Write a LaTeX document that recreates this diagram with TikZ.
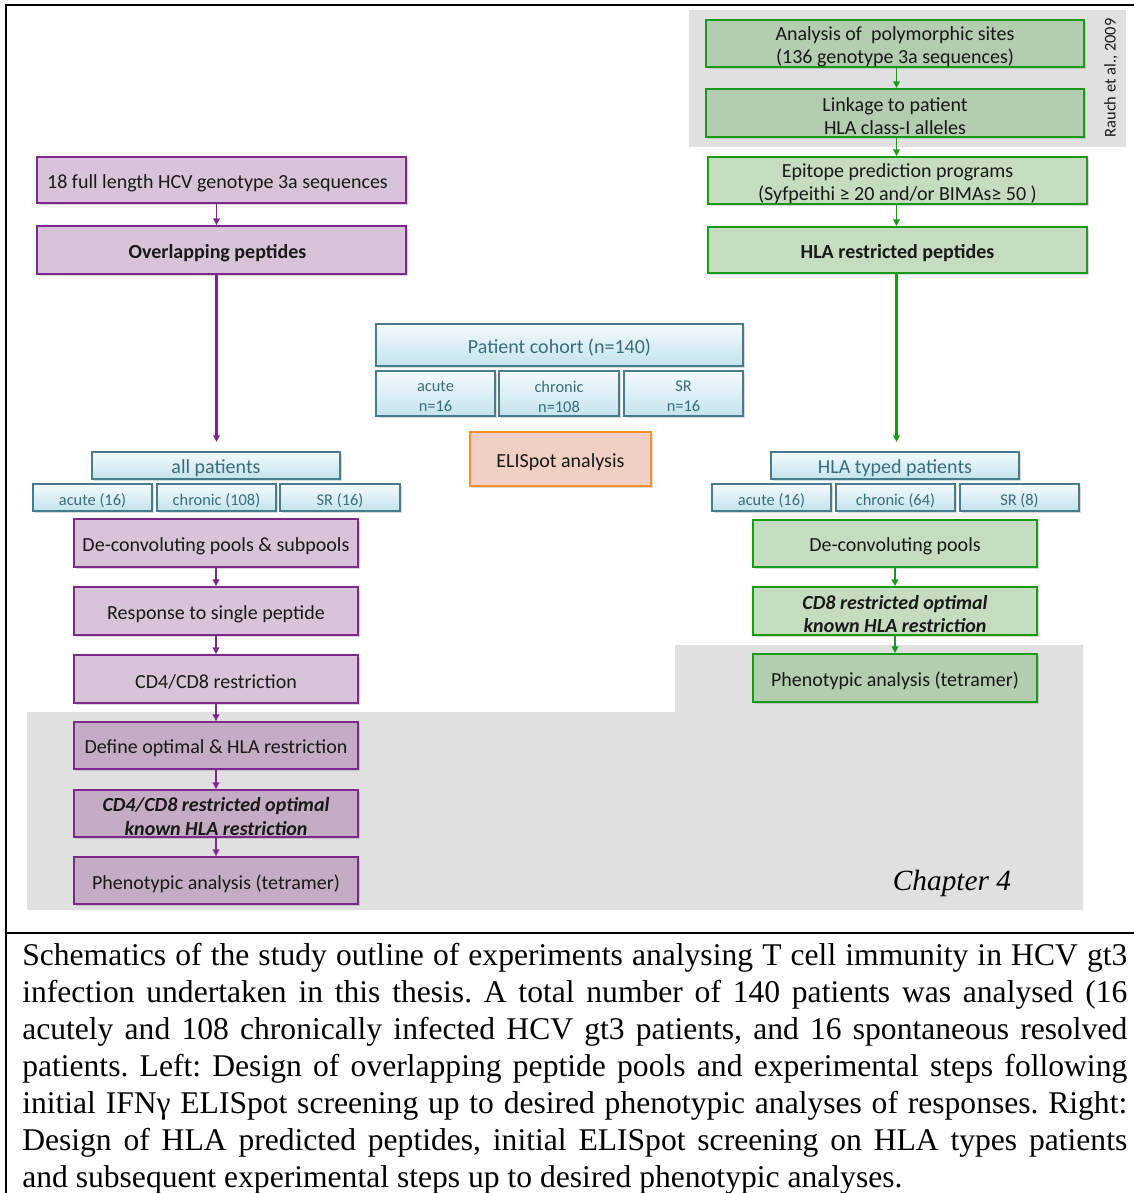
\documentclass[tikz,border=0pt]{standalone}
\usepackage{fontspec}
\setmainfont{Carlito}
\newfontfamily\capfont{Liberation Serif}
\usetikzlibrary{arrows.meta,shadows}
\definecolor{pbord}{RGB}{125,40,140}
\definecolor{pfill}{RGB}{216,196,216}
\definecolor{pfilld}{RGB}{196,173,196}
\definecolor{gbord}{RGB}{25,155,25}
\definecolor{gfill}{RGB}{197,220,192}
\definecolor{gfilld}{RGB}{180,204,176}
\definecolor{bbord}{RGB}{70,125,142}
\definecolor{btop}{RGB}{244,250,252}
\definecolor{bbot}{RGB}{196,227,237}
\definecolor{btext}{RGB}{55,110,126}
\definecolor{obord}{RGB}{247,145,45}
\definecolor{ofill}{RGB}{240,208,196}
\definecolor{garea}{RGB}{224,224,224}
\definecolor{txt}{RGB}{25,25,25}
\frenchspacing
\begin{document}
\begin{tikzpicture}[x=0.75pt,y=-0.75pt,
  sz/.style 2 args={minimum width=#1*0.75pt, minimum height=#2*0.75pt},
  basebox/.style={draw, inner sep=0pt,
    drop shadow={opacity=0.3, shadow xshift=1.2pt, shadow yshift=-1.2pt}},
  plbl/.style={inner sep=0pt, align=center, text=txt, font=\fontsize{15}{17.5}\selectfont, yshift=-2.25pt},
  blbl/.style={plbl, text=btext},
  bslbl/.style={blbl, font=\fontsize{12.3}{15}\selectfont},
  tx/.style={label={[plbl]center:{#1}}},
  btx/.style={label={[blbl]center:{#1}}},
  bstx/.style={label={[bslbl]center:{#1}}},
  pbox/.style={basebox, draw=pbord, fill=pfill, line width=1.4pt},
  pboxd/.style={pbox, fill=pfilld},
  gbox/.style={basebox, draw=gbord, fill=gfill, line width=1.4pt},
  gboxd/.style={gbox, fill=gfilld},
  bbox/.style={basebox, draw=bbord, line width=1.1pt, top color=btop, bottom color=bbot},
  obox/.style={basebox, draw=obord, fill=ofill, line width=1.4pt},
  parr/.style={draw=pbord, line width=1.1pt, -{Triangle[length=5pt,width=5pt]}},
  garr/.style={draw=gbord, line width=1.1pt, -{Triangle[length=5pt,width=5pt]}},
  caption/.style={font=\capfont\fontsize{23.7}{27.6}\selectfont, inner sep=0pt, anchor=base west}
]
\useasboundingbox (0,0) rectangle (1134,1193);
% frame
\draw[line width=1.5pt] (6,1193) -- (6,4.5) -- (1134,4.5);
\draw[line width=1.5pt] (6,933) -- (1134,933);
% gray areas
\fill[garea] (689,10) rectangle (1126,147);
\fill[garea] (27,712) -- (675,712) -- (675,645) -- (1083,645) -- (1083,910) -- (27,910) -- cycle;

% left column
\node[pbox, sz={369}{46}, label={[plbl, xshift=-3pt]center:18 full length HCV genotype 3a sequences}] (seq) at (221.5,180) {};
\node[pbox, sz={369}{48}, label={[plbl, xshift=-3pt]center:\textbf{Overlapping peptides}}] (ovl) at (221.5,250) {};
\coordinate (lx) at (216.5,0);
\draw[parr] (lx |- seq.south) -- (lx |- ovl.north);

\node[bbox, sz={248}{27}, btx={all patients}] (allp) at (216,465.5) {};
\node[bbox, sz={119}{27}, bstx={acute (16)}] (la) at (92.5,497.5) {};
\node[bbox, sz={119}{27}, bstx={chronic (108)}] (lc) at (216.5,497.5) {};
\node[bbox, sz={120}{27}, bstx={SR (16)}] (ls) at (340,497.5) {};
\draw[parr, line width=1.6pt, shorten >=7pt] (lx |- ovl.south) -- (lx |- allp.north);

\node[pbox, sz={284}{48}, tx={De-convoluting pools \& subpools}] (l1) at (216,543) {};
\node[pbox, sz={284}{48}, tx={Response to single peptide}] (l2) at (216,611) {};
\node[pbox, sz={284}{48}, tx={CD4/CD8 restriction}] (l3) at (216,679) {};
\node[pboxd, sz={284}{47}, tx={Define optimal \& HLA restriction}] (l4) at (216,745.5) {};
\node[pboxd, sz={284}{47}, tx={\textbf{\textit{CD4/CD8 restricted optimal}}\\\textbf{\textit{known HLA restriction}}}] (l5) at (216,813.5) {};
\node[pboxd, sz={284}{47}, tx={Phenotypic analysis (tetramer)}] (l6) at (216,880.5) {};
\draw[parr] (l1) -- (l2);
\draw[parr] (l2) -- (l3);
\draw[parr] (l3) -- (l4);
\draw[parr] (l4) -- (l5);
\draw[parr] (l5) -- (l6);

% center
\node[bbox, sz={367}{42}, btx={Patient cohort (n=140)}] (coh) at (559.5,345) {};
\node[bbox, sz={119}{45}, bstx={acute\\n=16}] (ca) at (435.5,393.5) {};
\node[bbox, sz={120}{45}, bstx={chronic\\n=108}] (cc) at (559,393.5) {};
\node[bbox, sz={119}{45}, bstx={SR\\n=16}] (cs) at (683.5,393.5) {};
\node[obox, sz={181}{54}, tx={ELISpot analysis}] (eli) at (560.5,459) {};

% right column
\node[gboxd, sz={378}{47}, tx={Analysis of~ polymorphic sites\\(136 genotype 3a sequences)}] (r1) at (895,43.5) {};
\node[gboxd, sz={378}{48}, tx={Linkage to patient\\HLA class-I alleles}] (r2) at (895,113) {};
\node[gbox, sz={379}{47}, tx={Epitope prediction programs\\(Syfpeithi ≥ 20 and/or BIMAs≥ 50 )}] (r3) at (897.5,180.5) {};
\node[gbox, sz={379}{46}, tx={\textbf{HLA restricted peptides}}] (r4) at (897.5,250) {};
\node[rotate=90, inner sep=0pt, text=txt, font=\fontsize{12.3}{14}\selectfont] (rauch) at (1111,78) {Rauch et al., 2009};
\coordinate (rx) at (896.5,0);
\draw[garr] (rx |- r1.south) -- (rx |- r2.north);
\draw[garr] (rx |- r2.south) -- (rx |- r3.north);
\draw[garr] (rx |- r3.south) -- (rx |- r4.north);

\node[bbox, sz={248}{27}, btx={HLA typed patients}] (hla) at (895,465.5) {};
\node[bbox, sz={119}{27}, bstx={acute (16)}] (ra) at (771.5,497.5) {};
\node[bbox, sz={119}{27}, bstx={chronic (64)}] (rc) at (895.5,497.5) {};
\node[bbox, sz={119}{27}, bstx={SR (8)}] (rs) at (1019.5,497.5) {};
\draw[garr, line width=1.6pt, shorten >=7pt] (rx |- r4.south) -- (rx |- hla.north);

\node[gbox, sz={284}{47}, tx={De-convoluting pools}] (q1) at (895,543.5) {};
\node[gbox, sz={284}{48}, tx={\textbf{\textit{CD8 restricted optimal}}\\\textbf{\textit{known HLA restriction}}}] (q2) at (895,611) {};
\node[gboxd, sz={284}{48}, tx={Phenotypic analysis (tetramer)}] (q3) at (895,678) {};
\draw[garr] (q1) -- (q2);
\draw[garr] (q2) -- (q3);

\node[font=\capfont\itshape\fontsize{22}{26}\selectfont, anchor=base, inner sep=0pt] (chap) at (952,890) {Chapter 4};

% caption
\node[caption] (c1) at (22,965) {\makebox[828.75pt][s]{Schematics of the study outline of experiments analysing T cell immunity in HCV gt3}};
\node[caption] (c2) at (22,1002) {\makebox[828.75pt][s]{infection undertaken in this thesis. A total number of 140 patients was analysed (16}};
\node[caption] (c3) at (22,1039) {\makebox[828.75pt][s]{acutely and 108 chronically infected HCV gt3 patients, and 16 spontaneous resolved}};
\node[caption] (c4) at (22,1076) {\makebox[828.75pt][s]{patients. Left: Design of overlapping peptide pools and experimental steps following}};
\node[caption] (c5) at (22,1113) {\makebox[828.75pt][s]{initial IFNγ ELISpot screening up to desired phenotypic analyses of responses. Right:}};
\node[caption] (c6) at (22,1150) {\makebox[828.75pt][s]{Design of HLA predicted peptides, initial ELISpot screening on HLA types patients}};
\node[caption] (c7) at (22,1187) {and subsequent experimental steps up to desired phenotypic analyses.};
\end{tikzpicture}
\end{document}
